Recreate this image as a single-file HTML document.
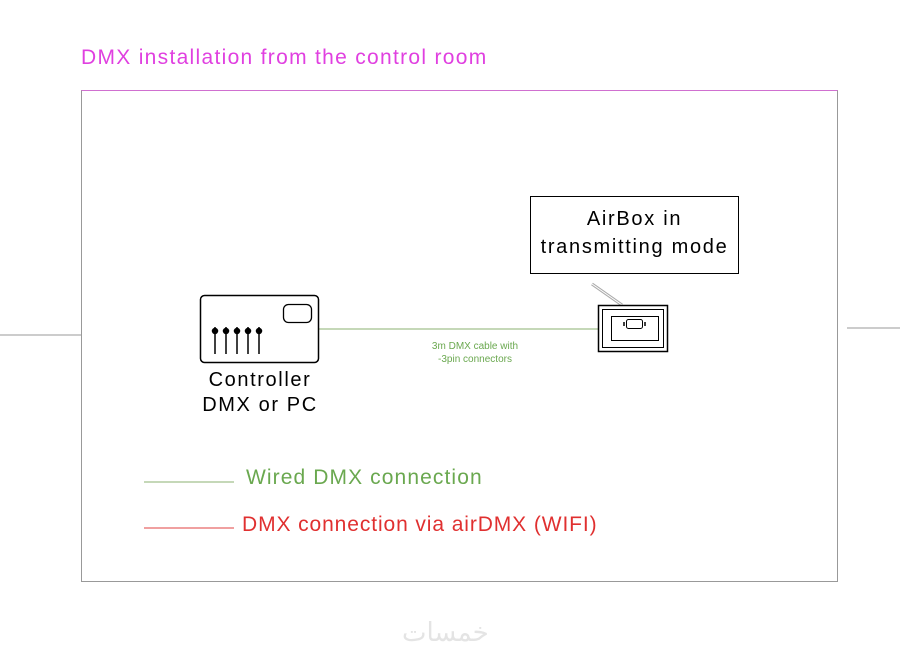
<!DOCTYPE html>
<html><head><style>
body{margin:0;width:916px;height:662px;background:#fff;position:relative;overflow:hidden;font-family:"Liberation Sans","DejaVu Sans",sans-serif}
.a{position:absolute}
</style></head><body>
<div class="a" style="left:81px;top:46px;font-size:21px;color:#e040e0;letter-spacing:1.3px">DMX installation from the control room</div>
<div class="a" style="left:81px;top:90px;width:755px;height:490px;border:1px solid #999;border-top-color:#d070d0"></div>
<svg class="a" style="left:0;top:0" width="916" height="662">
<line x1="0" y1="335" x2="81" y2="335" stroke="#999"/>
<line x1="847" y1="328" x2="900" y2="328" stroke="#999"/>
<line x1="319" y1="329" x2="598" y2="329" stroke="#8bb070" stroke-width="1"/>
<rect x="200.5" y="295.5" width="118" height="67" rx="4" fill="none" stroke="#000" stroke-width="1.5"/>
<rect x="283.5" y="304.5" width="28" height="18" rx="5" fill="none" stroke="#000" stroke-width="1.3"/>
<g stroke="#000" stroke-width="1.5" fill="#000">
<line x1="215" y1="327" x2="215" y2="354"/><circle cx="215" cy="331" r="2.5"/>
<line x1="226" y1="327" x2="226" y2="354"/><circle cx="226" cy="331" r="2.5"/>
<line x1="237" y1="327" x2="237" y2="354"/><circle cx="237" cy="331" r="2.5"/>
<line x1="248" y1="327" x2="248" y2="354"/><circle cx="248" cy="331" r="2.5"/>
<line x1="259" y1="327" x2="259" y2="354"/><circle cx="259" cy="331" r="2.5"/>
</g>
<line x1="592" y1="284" x2="622" y2="305" stroke="#aaa" stroke-width="3"/>
<line x1="592" y1="284" x2="622" y2="305" stroke="#fff" stroke-width="1"/>
<rect x="598.5" y="305.5" width="69" height="46" fill="none" stroke="#000" stroke-width="1.5"/>
<rect x="602.5" y="309.5" width="61" height="38" fill="none" stroke="#000" stroke-width="1"/>
<rect x="611.5" y="316.5" width="47" height="24" fill="none" stroke="#000" stroke-width="1"/>
<rect x="626.5" y="319.5" width="16" height="9" rx="2" fill="none" stroke="#000" stroke-width="1"/>
<line x1="624" y1="322" x2="624" y2="326" stroke="#000" stroke-width="1.5"/>
<line x1="645" y1="322" x2="645" y2="326" stroke="#000" stroke-width="1.5"/>
<line x1="144" y1="482" x2="234" y2="482" stroke="#8bb070"/>
<line x1="144" y1="528" x2="234" y2="528" stroke="#e04040"/>
</svg>
<div class="a" style="left:530px;top:196px;width:209px;height:78px;border:1px solid #000;text-align:center;font-size:20px;line-height:28px;padding-top:8px;box-sizing:border-box;letter-spacing:1.7px">AirBox in<br>transmitting mode</div>
<div class="a" style="left:180px;top:368px;width:160px;text-align:center;font-size:20px;line-height:25px;letter-spacing:1.6px">Controller<br>DMX or PC</div>
<div class="a" style="left:400px;top:340px;width:150px;text-align:center;font-size:10px;line-height:13px;color:#6aa84f">3m DMX cable with<br>-3pin connectors</div>
<div class="a" style="left:246px;top:466px;font-size:21px;color:#6aa84f;letter-spacing:1.1px">Wired DMX connection</div>
<div class="a" style="left:242px;top:513px;font-size:21px;color:#e03030;letter-spacing:0.9px">DMX connection via airDMX (WIFI)</div>
<div class="a" style="left:402px;top:618px;font-size:26px;color:#e4e4e4;font-family:'DejaVu Sans',sans-serif">خمسات</div>
</body></html>
